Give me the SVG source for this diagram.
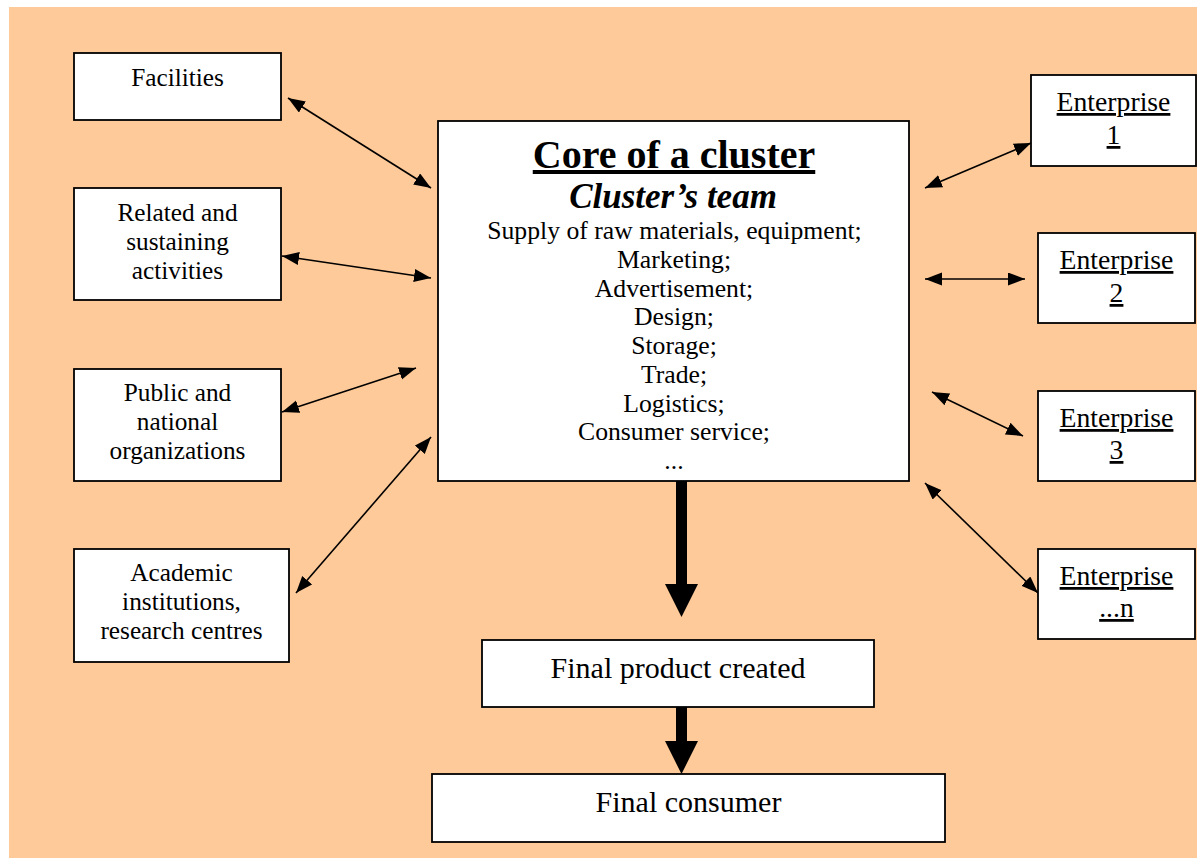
<svg xmlns="http://www.w3.org/2000/svg" width="1197" height="858" viewBox="0 0 1197 858">
  <style>
    .box { fill: #ffffff; stroke: #000000; stroke-width: 1.8; }
    .t { font-family: "Liberation Serif", "Times New Roman", serif; fill: #000000; text-anchor: middle; }
    .s { font-size: 25.3px; }
    .c { font-size: 25.7px; }
    .e { font-size: 27.7px; text-decoration: underline; }
    .f { font-size: 30px; }
    .link { stroke: #000000; stroke-width: 1.6; fill: none; marker-start: url(#head); marker-end: url(#head); }
    .thick { fill: #000000; }
  </style>
  <defs>
    <marker id="head" markerUnits="userSpaceOnUse" markerWidth="18" markerHeight="14" refX="17" refY="6.5" orient="auto-start-reverse">
      <path d="M0,0 L17,6.5 L0,13 Z" fill="#000000"/>
    </marker>
  </defs>

  <!-- backdrop -->
  <rect x="9" y="7" width="1188" height="851" fill="#FECA99"/>

  <!-- connectors -->
  <g id="connectors">
    <line class="link" x1="288" y1="98" x2="431" y2="188"/>
    <line class="link" x1="282" y1="256" x2="431" y2="278"/>
    <line class="link" x1="282" y1="412" x2="416" y2="368"/>
    <line class="link" x1="296" y1="593" x2="431" y2="437"/>
    <line class="link" x1="925" y1="188" x2="1031" y2="143"/>
    <line class="link" x1="925" y1="279" x2="1025" y2="279"/>
    <line class="link" x1="932" y1="392" x2="1023" y2="436"/>
    <line class="link" x1="925" y1="483" x2="1038" y2="593"/>
    <!-- heavy downward flow -->
    <path class="thick" d="M676,481 H687 V584 H698 L681.5,617 L665,584 H676 Z"/>
    <path class="thick" d="M676,707 H687 V741 H698 L681.5,774 L665,741 H676 Z"/>
  </g>

  <!-- left-hand partners -->
  <g id="facilities">
    <rect class="box" x="74" y="53" width="207" height="67"/>
    <text class="t s" x="177.5" y="86">Facilities</text>
  </g>
  <g id="related">
    <rect class="box" x="74" y="188" width="207" height="112"/>
    <text class="t s" x="177.5" y="221">Related and</text>
    <text class="t s" x="177.5" y="250">sustaining</text>
    <text class="t s" x="177.5" y="279">activities</text>
  </g>
  <g id="public">
    <rect class="box" x="74" y="369" width="207" height="112"/>
    <text class="t s" x="177.5" y="401">Public and</text>
    <text class="t s" x="177.5" y="430">national</text>
    <text class="t s" x="177.5" y="459">organizations</text>
  </g>
  <g id="academic">
    <rect class="box" x="74" y="549" width="215" height="113"/>
    <text class="t s" x="181.5" y="581">Academic</text>
    <text class="t s" x="181.5" y="610">institutions,</text>
    <text class="t s" x="181.5" y="639">research centres</text>
  </g>

  <!-- core -->
  <g id="core">
    <rect class="box" x="438" y="121" width="471" height="360"/>
    <text class="t" x="674" y="168" font-size="40" font-weight="bold" text-decoration="underline">Core of a cluster</text>
    <text class="t" x="673" y="208" font-size="35" font-weight="bold" font-style="italic">Cluster’s team</text>
    <text class="t c" x="674.5" y="239">Supply of raw materials, equipment;</text>
    <text class="t c" x="674" y="268">Marketing;</text>
    <text class="t c" x="674" y="297">Advertisement;</text>
    <text class="t c" x="674" y="325">Design;</text>
    <text class="t c" x="674" y="354">Storage;</text>
    <text class="t c" x="674" y="383">Trade;</text>
    <text class="t c" x="674" y="412">Logistics;</text>
    <text class="t c" x="674" y="440">Consumer service;</text>
    <text class="t c" x="674" y="469">...</text>
  </g>

  <!-- enterprises -->
  <g id="enterprise1">
    <rect class="box" x="1031" y="75" width="165" height="91"/>
    <text class="t e" x="1113.5" y="111">Enterprise</text>
    <text class="t e" x="1113.5" y="144">1</text>
  </g>
  <g id="enterprise2">
    <rect class="box" x="1038" y="233" width="157" height="90"/>
    <text class="t e" x="1116.5" y="269">Enterprise</text>
    <text class="t e" x="1116.5" y="302">2</text>
  </g>
  <g id="enterprise3">
    <rect class="box" x="1038" y="391" width="157" height="90"/>
    <text class="t e" x="1116.5" y="427">Enterprise</text>
    <text class="t e" x="1116.5" y="459">3</text>
  </g>
  <g id="enterpriseN">
    <rect class="box" x="1038" y="549" width="157" height="90"/>
    <text class="t e" x="1116.5" y="585">Enterprise</text>
    <text class="t e" x="1116.5" y="617">...n</text>
  </g>

  <!-- outputs -->
  <g id="final-product">
    <rect class="box" x="482" y="640" width="392" height="67"/>
    <text class="t f" x="678" y="678">Final product created</text>
  </g>
  <g id="final-consumer">
    <rect class="box" x="432" y="774" width="513" height="68"/>
    <text class="t f" x="688.5" y="812">Final consumer</text>
  </g>
</svg>
